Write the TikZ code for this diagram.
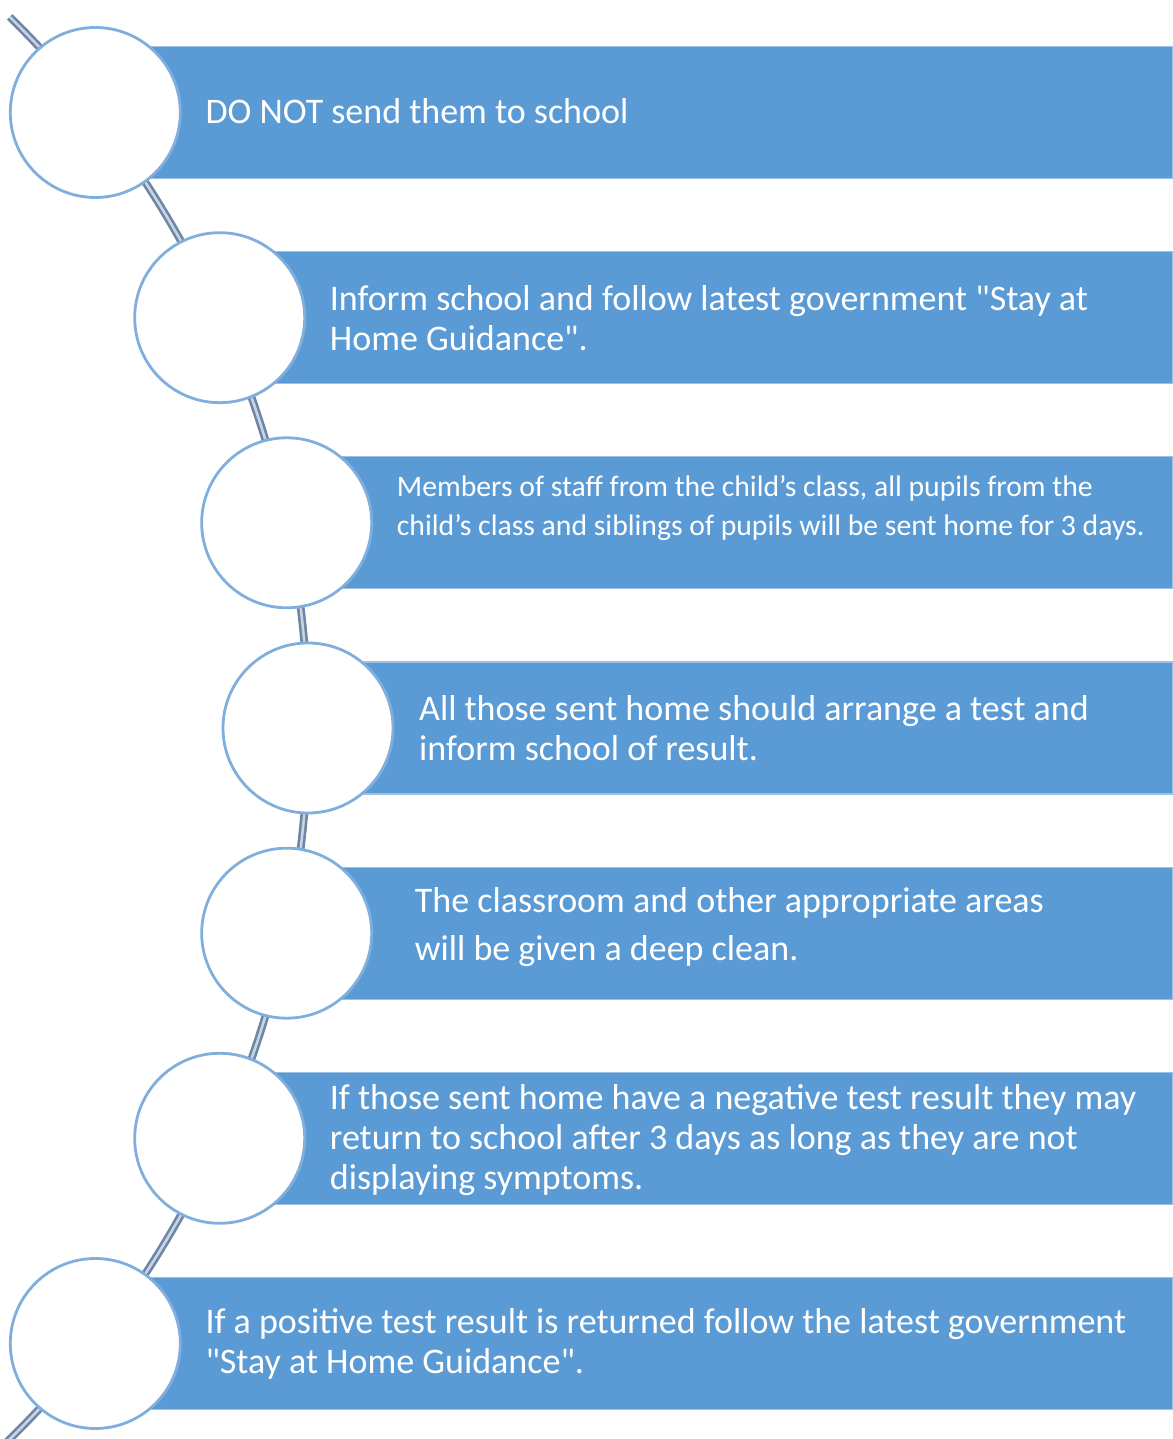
\documentclass[tikz,border=0pt]{standalone}
\usepackage{fontspec}
\setmainfont{Carlito}[Ligatures=TeXOff]
\usetikzlibrary{calc}
\definecolor{barblue}{HTML}{5B9BD5}
\definecolor{baredge}{HTML}{9CC0E6}
\definecolor{ringblue}{HTML}{80AEDD}
\definecolor{connout}{RGB}{110,134,165}
\definecolor{connin}{RGB}{200,212,228}
\begin{document}
\begin{tikzpicture}[x=1pt,y=1pt,
  bar/.style={rectangle, fill=barblue, draw=baredge, line width=1.2pt, minimum height=132pt, inner sep=0pt, anchor=west},
  ring/.style={circle, fill=white, draw=ringblue, line width=2.8pt, minimum size=170pt, inner sep=0pt},
  label/.style={anchor=west, text=white, align=left, inner sep=0pt, font=\fontsize{36}{40}\selectfont},
  conn/.style={draw=connout, line width=2.6pt, double=connin, double distance=2.6pt}]
\useasboundingbox (0,0) rectangle (1172,1439);
% connector arc
\coordinate (arcstart) at ($(-689,711)+(45.5:997)$);
\draw[conn] (arcstart) arc[start angle=45.5, end angle=-46, radius=997];
% bars
\foreach \i/\cx/\cy in {1/95.3/1326.5, 2/219.7/1121.3, 3/286.7/916.2, 4/308/711, 5/286.7/505.8, 6/219.7/300.7, 7/95.3/95.5}{
  \node[bar, minimum width={1172pt-\cx pt}] (b\i) at (\cx,\cy) {};
}
% circles
\foreach \i/\cx/\cy in {1/95.3/1326.5, 2/219.7/1121.3, 3/286.7/916.2, 4/308/711, 5/286.7/505.8, 6/219.7/300.7, 7/95.3/95.5}{
  \node[ring] (c\i) at (\cx,\cy) {};
}
% texts
\node[label] (t1) at ([xshift=110pt,yshift=1pt]b1.west) {DO NOT send them to school};
\node[label] (t2) at ([xshift=110pt]b2.west) {Inform school and follow latest government "Stay at\\Home Guidance".};
\node[label, font=\fontsize{29.7}{39}\selectfont] (t3) at ([xshift=110pt,yshift=15pt]b3.west) {Members of staff from the child’s class, all pupils from the\\child’s class and siblings of pupils will be sent home for 3 days.};
\node[label] (t4) at ([xshift=111pt]b4.west) {All those sent home should arrange a test and\\inform school of result.};
\node[label, font=\fontsize{36}{48}\selectfont] (t5) at ([xshift=128pt,yshift=6pt]b5.west) {The classroom and other appropriate areas\\will be given a deep clean.};
\node[label] (t6) at ([xshift=110pt,yshift=-2pt]b6.west) {If those sent home have a negative test result they may\\return to school after 3 days as long as they are not\\displaying symptoms.};
\node[label] (t7) at ([xshift=110pt]b7.west) {If a positive test result is returned follow the latest government\\"Stay at Home Guidance".};
\end{tikzpicture}
\end{document}
